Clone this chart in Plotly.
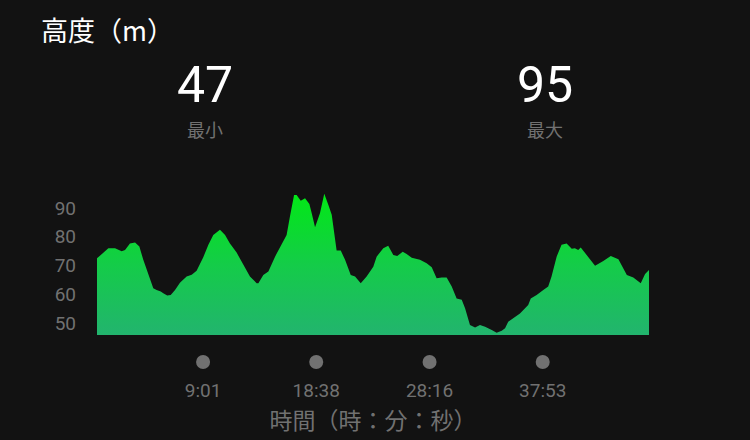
import plotly.graph_objects as go

# elapsed time (seconds) and altitude (m)
elapsed_s = [0, 24, 58, 92, 126, 143, 168, 194, 216, 236, 262, 287, 304, 325, 338, 358, 376, 398,
             423, 457, 483, 508, 542, 568, 593, 627, 653, 678, 712, 746, 780, 814, 823, 848, 874,
             908, 942, 967, 984, 1005, 1018, 1039, 1061, 1083, 1095, 1112, 1137, 1159, 1180, 1197,
             1222, 1243, 1265, 1294, 1316, 1345, 1375, 1392, 1409, 1426, 1460, 1485, 1511, 1531,
             1559, 1579, 1605, 1647, 1681, 1707, 1732, 1758, 1783, 1809, 1834, 1860, 1877, 1902,
             1928, 1953, 1979, 2013, 2038, 2064, 2081, 2097, 2132, 2157, 2183, 2199, 2212, 2242,
             2276, 2301, 2318, 2344, 2369, 2395, 2421, 2437, 2454, 2467, 2497, 2540, 2582, 2620,
             2659, 2702, 2735, 2773, 2795, 2815]
altitude_m = [72.5, 74, 76, 76, 75, 75.4, 77.7, 78, 76.6, 72, 66.7, 62.1, 61.5, 61, 60.4, 59.6, 59.8,
              61.5, 64, 66.2, 66.8, 68.2, 72.9, 77.2, 80.6, 82.4, 80.6, 77.7, 74.5, 70.2, 66.2, 63.9,
              63.9, 66.7, 67.9, 73.1, 77.2, 80.6, 87, 94.5, 94.5, 92.5, 93.4, 91.4, 88.2, 83.3, 88.2,
              94.9, 91, 87.6, 75.2, 75.2, 72, 66.7, 66.2, 63.9, 66.2, 67.9, 69.6, 73.1, 76, 76.9,
              73.7, 73.3, 74.8, 74, 72.7, 72, 70.8, 69.4, 65.6, 65.9, 65.9, 62.7, 58.6, 58.1, 55.2,
              49.4, 48.5, 49.4, 48.8, 47.6, 46.7, 47.4, 48.2, 50.5, 52.3, 53.4, 55.2, 56.3, 58.6,
              59.8, 61.5, 62.7, 66.2, 73.1, 77.2, 77.7, 75.8, 76, 75.4, 76.3, 73.7, 69.9, 71.6, 73.3,
              72.2, 66.7, 65.9, 63.9, 67.1, 68.5]

y_ticks = [50, 60, 70, 80, 90]
x_tick_seconds = [541, 1118, 1696, 2273]
x_tick_labels = ["9:01", "18:38", "28:16", "37:53"]
min_alt = 47
max_alt = 95

title_text = "高度（m）"
min_label = "最小"
max_label = "最大"
x_title = "時間（時：分：秒）"

BG = "#121212"
GREY = "#717171"
CJK = "Noto Sans CJK JP"
LAT = "Roboto, 'Liberation Sans', sans-serif"

fig = go.Figure()
fig.add_trace(go.Scatter(
    x=elapsed_s, y=altitude_m, mode="lines", fill="tozeroy",
    line=dict(width=0, color="#10d840"),
    fillgradient=dict(type="vertical", start=45.9, stop=95,
                      colorscale=[[0, "#22b46e"], [0.5, "#14cc48"], [1, "#02e816"]]),
    hoverinfo="skip", showlegend=False,
))

fig.update_layout(
    width=750, height=440,
    paper_bgcolor=BG, plot_bgcolor=BG,
    margin=dict(l=97, r=101, t=180, b=105),
    xaxis=dict(range=[0, 2815], showgrid=False, zeroline=False, showline=False,
               tickvals=x_tick_seconds, ticktext=x_tick_labels, ticks="",
               tickfont=dict(family=LAT, size=19, color=GREY),
               ticklabelstandoff=42,
               title=dict(text=x_title, font=dict(family=CJK, size=23, color=GREY), standoff=7)),
    yaxis=dict(range=[45.9, 99.7], showgrid=False, zeroline=False, showline=False,
               tickvals=y_ticks, ticks="",
               tickfont=dict(family=LAT, size=19, color=GREY),
               ticklabelstandoff=20),
)

# tick dots under the axis, positioned by the x axis scale
shapes = []
for t in x_tick_seconds:
    shapes.append(dict(type="circle", xref="x", yref="paper",
                       xsizemode="pixel", ysizemode="pixel",
                       xanchor=t, yanchor=-27 / 155.0,
                       x0=-7, x1=7, y0=-7, y1=7,
                       fillcolor=GREY, line=dict(width=0)))
fig.update_layout(shapes=shapes)

def px_x(p):
    return (p - 97) / 552.0

def px_y(p):
    return (335 - p) / 155.0

anns = [
    dict(text=title_text, x=px_x(39), y=px_y(29), xanchor="left", yanchor="middle",
         font=dict(family=CJK, size=27, color="#ffffff")),
    dict(text=str(min_alt), x=px_x(205), y=px_y(85), xanchor="center", yanchor="middle",
         font=dict(family=LAT, size=50, color="#ffffff")),
    dict(text=min_label, x=px_x(205), y=px_y(129), xanchor="center", yanchor="middle",
         font=dict(family=CJK, size=18, color=GREY)),
    dict(text=str(max_alt), x=px_x(545), y=px_y(85), xanchor="center", yanchor="middle",
         font=dict(family=LAT, size=50, color="#ffffff")),
    dict(text=max_label, x=px_x(545), y=px_y(129), xanchor="center", yanchor="middle",
         font=dict(family=CJK, size=18, color=GREY)),
]
for a in anns:
    a.update(xref="paper", yref="paper", showarrow=False)
fig.update_layout(annotations=anns)

fig.write_html("out.html", config={"displayModeBar": False},
               post_script="document.body.style.margin='0';document.body.style.background='#121212';")
